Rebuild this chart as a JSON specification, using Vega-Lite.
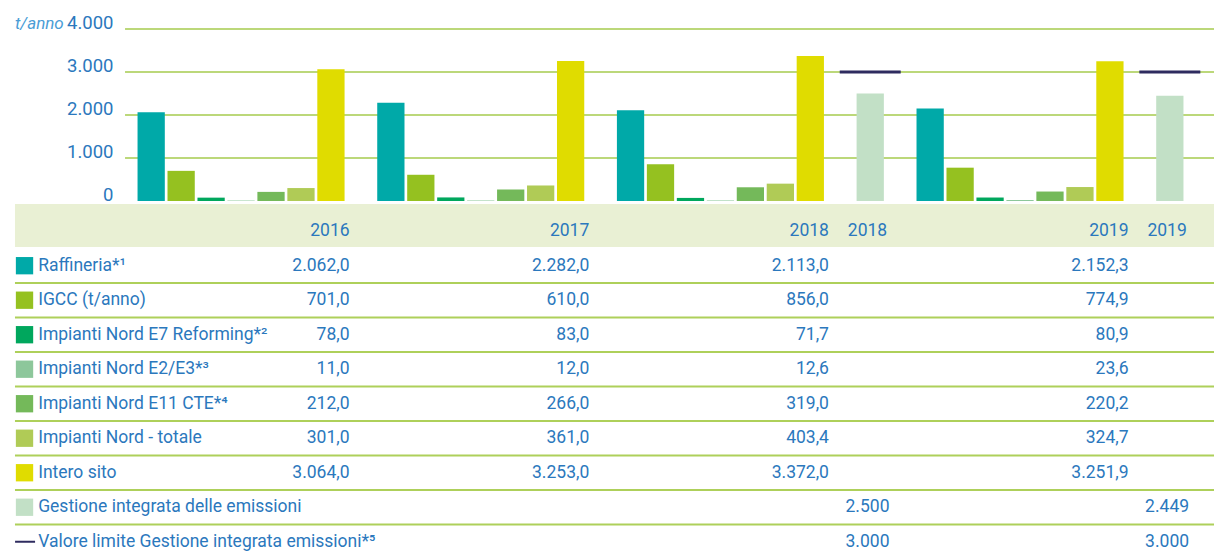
{
  "$schema": "https://vega.github.io/schema/vega-lite/v6.json",
  "width": 1214,
  "height": 559,
  "autosize": "none",
  "padding": 0,
  "background": "white",
  "config": {
    "view": {"stroke": null},
    "font": "Roboto",
    "locale": {"number": {"decimal": ",", "thousands": ".", "grouping": [3], "currency": ["€", ""]}}
  },
  "datasets": {
    "main": [
      {"year": "2016", "series": "Raffineria", "value": 2062.0},
      {"year": "2016", "series": "IGCC", "value": 701.0},
      {"year": "2016", "series": "E7", "value": 78.0},
      {"year": "2016", "series": "E2E3", "value": 11.0},
      {"year": "2016", "series": "E11", "value": 212.0},
      {"year": "2016", "series": "NordTot", "value": 301.0},
      {"year": "2016", "series": "Intero", "value": 3064.0},
      {"year": "2017", "series": "Raffineria", "value": 2282.0},
      {"year": "2017", "series": "IGCC", "value": 610.0},
      {"year": "2017", "series": "E7", "value": 83.0},
      {"year": "2017", "series": "E2E3", "value": 12.0},
      {"year": "2017", "series": "E11", "value": 266.0},
      {"year": "2017", "series": "NordTot", "value": 361.0},
      {"year": "2017", "series": "Intero", "value": 3253.0},
      {"year": "2018", "series": "Raffineria", "value": 2113.0},
      {"year": "2018", "series": "IGCC", "value": 856.0},
      {"year": "2018", "series": "E7", "value": 71.7},
      {"year": "2018", "series": "E2E3", "value": 12.6},
      {"year": "2018", "series": "E11", "value": 319.0},
      {"year": "2018", "series": "NordTot", "value": 403.4},
      {"year": "2018", "series": "Intero", "value": 3372.0},
      {"year": "2019", "series": "Raffineria", "value": 2152.3},
      {"year": "2019", "series": "IGCC", "value": 774.9},
      {"year": "2019", "series": "E7", "value": 80.9},
      {"year": "2019", "series": "E2E3", "value": 23.6},
      {"year": "2019", "series": "E11", "value": 220.2},
      {"year": "2019", "series": "NordTot", "value": 324.7},
      {"year": "2019", "series": "Intero", "value": 3251.9}
    ],
    "gest": [
      {"year": "2018", "series": "Gestione", "value": 2500, "limit": 3000},
      {"year": "2019", "series": "Gestione", "value": 2449, "limit": 3000}
    ],
    "rows": [
      {"series": "Raffineria", "label": "Raffineria*¹"},
      {"series": "IGCC", "label": "IGCC (t/anno)"},
      {"series": "E7", "label": "Impianti Nord E7 Reforming*²"},
      {"series": "E2E3", "label": "Impianti Nord E2/E3*³"},
      {"series": "E11", "label": "Impianti Nord E11 CTE*⁴"},
      {"series": "NordTot", "label": "Impianti Nord - totale"},
      {"series": "Intero", "label": "Intero sito"},
      {"series": "Gestione", "label": "Gestione integrata delle emissioni"},
      {"series": "Valore", "label": "Valore limite Gestione integrata emissioni*⁵"}
    ],
    "grid": [{"v": 0}, {"v": 1000}, {"v": 2000}, {"v": 3000}, {"v": 4000}]
  },
  "layer": [
    {
      "layer": [
        {
          "data": {"values": [{}]},
          "mark": {"type": "rect", "color": "#e9f0d4"},
          "encoding": {
            "x": {"datum": "p0", "type": "nominal", "bandPosition": -0.1, "axis": null},
            "x2": {"value": "width"},
            "y": {"datum": -70, "type": "quantitative"},
            "y2": {"datum": -1070}
          }
        },
        {
          "data": {"name": "grid"},
          "transform": [{"filter": "datum.v > 0"}],
          "mark": {"type": "rule", "color": "#bcd87a", "strokeWidth": 2},
          "encoding": {
            "x": {"datum": "p3", "type": "nominal", "bandPosition": 0.64, "axis": null},
            "x2": {"value": "width"},
            "y": {
              "field": "v", "type": "quantitative",
              "scale": {"domain": [-8325.6, 4674.4], "nice": false, "zero": false},
              "axis": {
                "values": [0, 1000, 2000, 3000, 4000],
                "format": ",.0f",
                "orient": "left",
                "offset": -125,
                "labelPadding": 12,
                "ticks": false,
                "domain": false,
                "grid": false,
                "title": null,
                "labelFont": "Roboto",
                "labelFontSize": 18.5,
                "labelColor": "#2b78bd",
                "labelBaseline": "alphabetic",
                "labelFlush": false,
                "labelOverlap": false
              }
            }
          }
        },
        {
          "data": {"name": "main"},
          "transform": [{"calculate": "datum.year + '|' + datum.series", "as": "key"}],
          "mark": {"type": "bar"},
          "encoding": {
            "x": {
              "field": "key", "type": "nominal", "axis": null,
              "scale": {
                "type": "band",
                "round": false,
                "paddingInner": 0.09,
                "paddingOuter": 0.805,
                "align": 0.367,
                "domain": ["p0", "p1", "p2", "p3",
                  "2016|Raffineria", "2016|IGCC", "2016|E7", "2016|E2E3", "2016|E11", "2016|NordTot", "2016|Intero", "g1",
                  "2017|Raffineria", "2017|IGCC", "2017|E7", "2017|E2E3", "2017|E11", "2017|NordTot", "2017|Intero", "g2",
                  "2018|Raffineria", "2018|IGCC", "2018|E7", "2018|E2E3", "2018|E11", "2018|NordTot", "2018|Intero", "g3",
                  "2018|Gestione", "g4",
                  "2019|Raffineria", "2019|IGCC", "2019|E7", "2019|E2E3", "2019|E11", "2019|NordTot", "2019|Intero", "g5",
                  "2019|Gestione"]
              }
            },
            "y": {"field": "value", "type": "quantitative"},
            "y2": {"datum": 0},
            "color": {
              "field": "series", "type": "nominal", "legend": null,
              "scale": {
                "domain": ["Raffineria", "IGCC", "E7", "E2E3", "E11", "NordTot", "Intero", "Gestione"],
                "range": ["#00a9a8", "#95c120", "#00a75d", "#8dc79b", "#74b95a", "#b0cb56", "#e0dc00", "#c2e0c6"]
              }
            }
          }
        },
        {
          "data": {"name": "gest"},
          "transform": [{"calculate": "datum.year + '|Gestione'", "as": "key"}],
          "mark": {"type": "bar"},
          "encoding": {
            "x": {"field": "key", "type": "nominal", "axis": null},
            "y": {"field": "value", "type": "quantitative"},
            "y2": {"datum": 0},
            "color": {"field": "series", "type": "nominal", "legend": null}
          }
        },
        {
          "data": {"name": "gest"},
          "transform": [{"calculate": "datum.year + '|Gestione'", "as": "key"}],
          "mark": {"type": "tick", "orient": "horizontal", "size": 61, "thickness": 3, "color": "#2e2b5f", "opacity": 1},
          "encoding": {
            "x": {"field": "key", "type": "nominal", "axis": null},
            "y": {"field": "limit", "type": "quantitative"}
          }
        },
        {
          "data": {"values": [{"t": "t/anno"}]},
          "mark": {"type": "text", "align": "left", "baseline": "alphabetic", "fontStyle": "italic", "fontSize": 17, "color": "#4a9dd6"},
          "encoding": {
            "x": {"datum": "p0", "type": "nominal", "bandPosition": -0.1, "axis": null},
            "y": {"datum": 4000, "type": "quantitative"},
            "text": {"field": "t"}
          }
        }
      ]
    },
    {
      "layer": [
        {
          "data": {"name": "rows"},
          "transform": [{"filter": "datum.series != 'Valore'"}],
          "mark": {"type": "rule", "color": "#aed05a", "strokeWidth": 2},
          "encoding": {
            "x": {"datum": "p0", "type": "nominal", "bandPosition": -0.1, "axis": null},
            "x2": {"value": "width"},
            "y": {
              "field": "series", "type": "nominal", "bandPosition": 1, "axis": null,
              "scale": {
                "type": "band",
                "round": false,
                "paddingInner": 0,
                "paddingOuter": 0.1,
                "align": 1,
                "domain": ["_1", "_2", "_3", "_4", "_5", "_6", "head", "Raffineria", "IGCC", "E7", "E2E3", "E11", "NordTot", "Intero", "Gestione", "Valore"]
              }
            }
          }
        },
        {
          "data": {"name": "rows"},
          "transform": [{"filter": "datum.series != 'Valore'"}],
          "mark": {"type": "square", "size": 300, "opacity": 1},
          "encoding": {
            "x": {"datum": "p0", "type": "nominal", "bandPosition": 0.25, "axis": null},
            "y": {"field": "series", "type": "nominal", "axis": null},
            "color": {"field": "series", "type": "nominal", "legend": null}
          }
        },
        {
          "data": {"name": "rows"},
          "transform": [{"filter": "datum.series == 'Valore'"}],
          "mark": {"type": "point", "shape": "M-1,0L1,0", "size": 400, "filled": false, "strokeWidth": 2, "color": "#2e2b5f", "opacity": 1},
          "encoding": {
            "x": {"datum": "p0", "type": "nominal", "bandPosition": 0.27, "axis": null},
            "y": {"field": "series", "type": "nominal", "axis": null}
          }
        },
        {
          "data": {"name": "rows"},
          "mark": {"type": "text", "align": "left", "baseline": "middle", "fontSize": 17.5, "color": "#2b78bd"},
          "encoding": {
            "x": {"datum": "p0", "type": "nominal", "bandPosition": 0.75, "axis": null},
            "y": {"field": "series", "type": "nominal", "axis": null},
            "text": {"field": "label"}
          }
        },
        {
          "data": {"name": "main"},
          "transform": [{"filter": "datum.series == 'Intero'"}, {"calculate": "datum.year + '|Intero'", "as": "key"}],
          "mark": {"type": "text", "align": "right", "baseline": "middle", "dx": 5, "fontSize": 17.5, "color": "#2b78bd"},
          "encoding": {
            "x": {"field": "key", "type": "nominal", "bandPosition": 1, "axis": null},
            "y": {"datum": "head", "type": "nominal", "axis": null},
            "text": {"field": "year"}
          }
        },
        {
          "data": {"name": "main"},
          "transform": [{"calculate": "datum.year + '|Intero'", "as": "key"}],
          "mark": {"type": "text", "align": "right", "baseline": "middle", "dx": 5, "fontSize": 17.5, "color": "#2b78bd"},
          "encoding": {
            "x": {"field": "key", "type": "nominal", "bandPosition": 1, "axis": null},
            "y": {"field": "series", "type": "nominal", "axis": null},
            "text": {"field": "value", "type": "quantitative", "format": ",.1f"}
          }
        },
        {
          "data": {"name": "gest"},
          "transform": [{"calculate": "datum.year + '|Gestione'", "as": "key"}],
          "mark": {"type": "text", "align": "center", "baseline": "middle", "fontSize": 17.5, "color": "#2b78bd"},
          "encoding": {
            "x": {"field": "key", "type": "nominal", "bandPosition": 0.4, "axis": null},
            "y": {"datum": "head", "type": "nominal", "axis": null},
            "text": {"field": "year"}
          }
        },
        {
          "data": {"name": "gest"},
          "transform": [{"calculate": "datum.year + '|Gestione'", "as": "key"}],
          "mark": {"type": "text", "align": "center", "baseline": "middle", "fontSize": 17.5, "color": "#2b78bd"},
          "encoding": {
            "x": {"field": "key", "type": "nominal", "bandPosition": 0.4, "axis": null},
            "y": {"datum": "Gestione", "type": "nominal", "axis": null},
            "text": {"field": "value", "type": "quantitative", "format": ",.0f"}
          }
        },
        {
          "data": {"name": "gest"},
          "transform": [{"calculate": "datum.year + '|Gestione'", "as": "key"}],
          "mark": {"type": "text", "align": "center", "baseline": "middle", "fontSize": 17.5, "color": "#2b78bd"},
          "encoding": {
            "x": {"field": "key", "type": "nominal", "bandPosition": 0.4, "axis": null},
            "y": {"datum": "Valore", "type": "nominal", "axis": null},
            "text": {"field": "limit", "type": "quantitative", "format": ",.0f"}
          }
        }
      ]
    }
  ],
  "resolve": {"scale": {"y": "independent"}}
}
